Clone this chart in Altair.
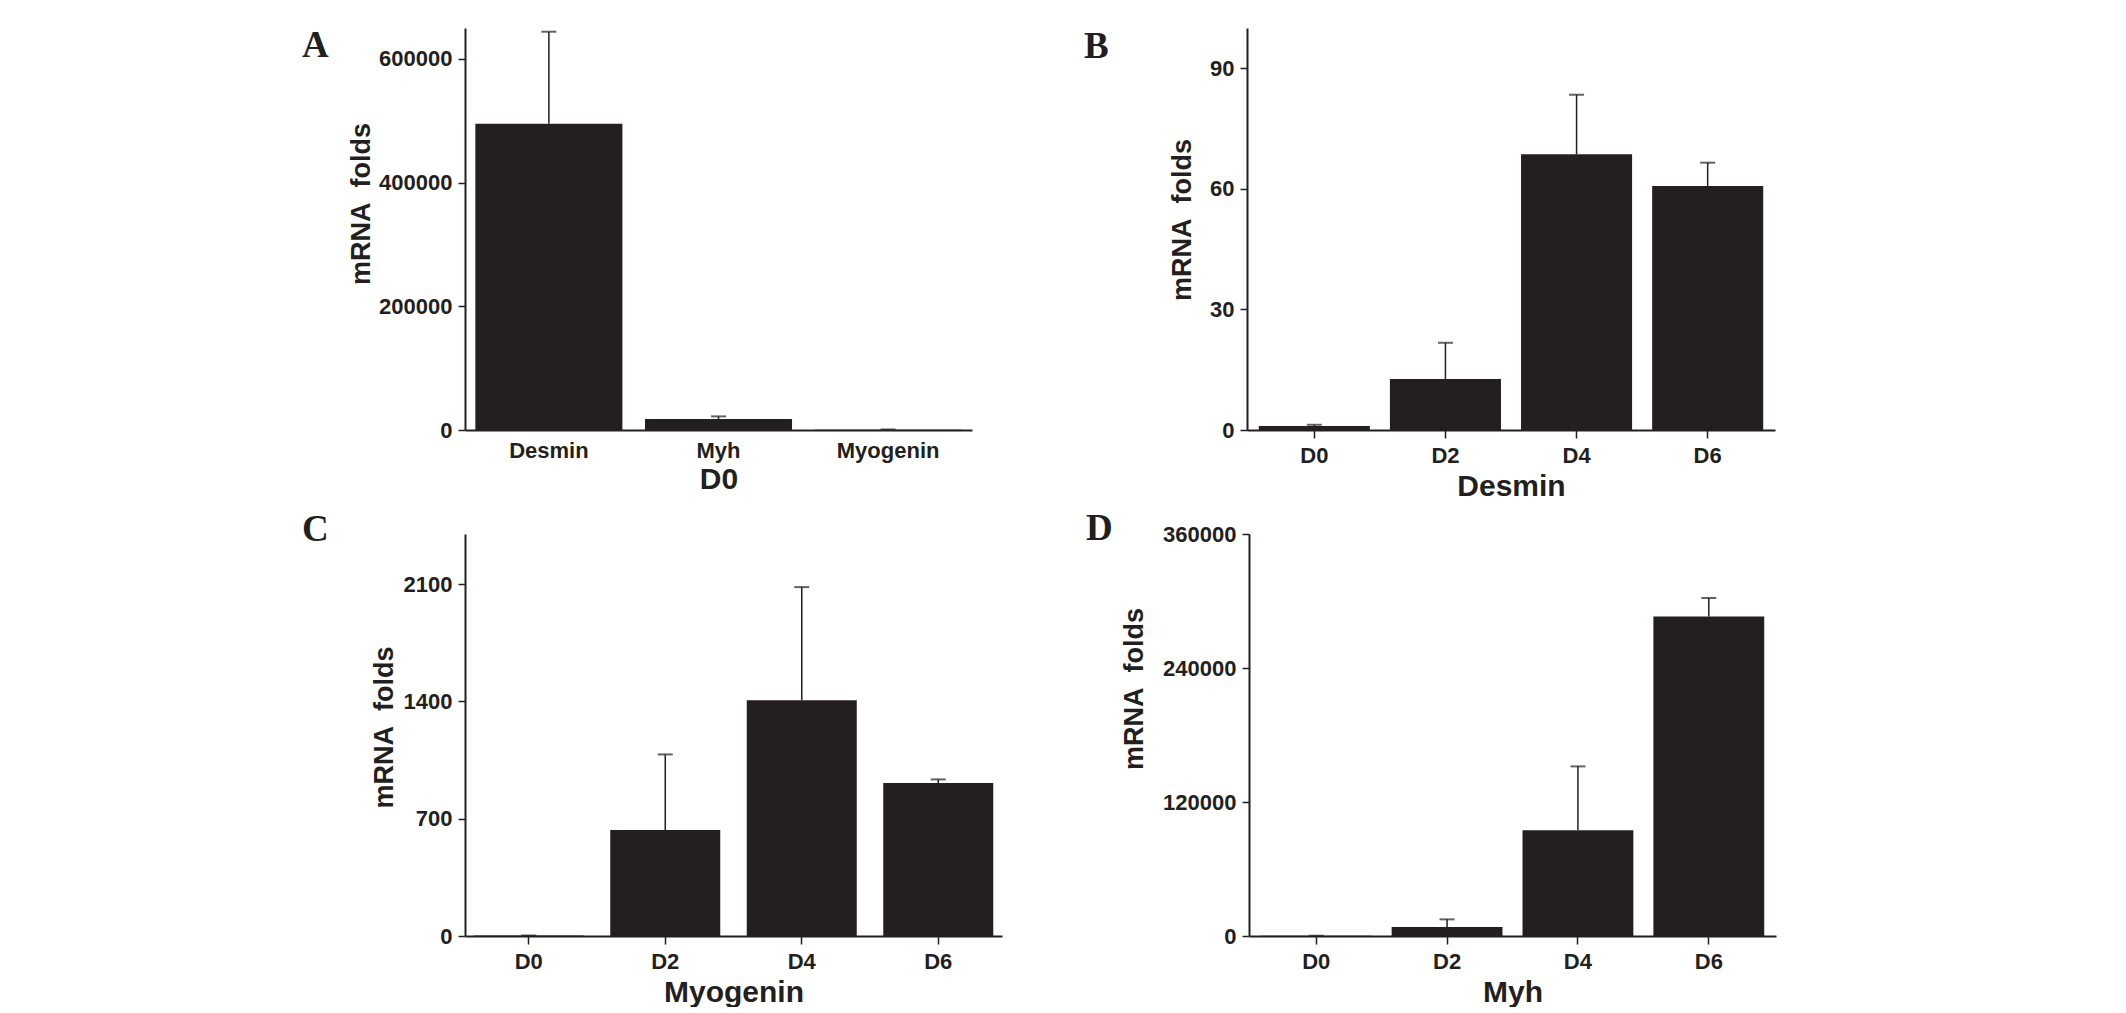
import altair as alt
import pandas as pd

# ---- data ----
a_cats = ["Desmin", "Myh", "Myogenin"]
a_mean = [495000, 17600, 600]
a_err = [149000, 4400, 300]

b_cats = ["D0", "D2", "D4", "D6"]
b_mean = [1.0, 12.7, 68.6, 60.7]
b_err = [0.3, 9.0, 14.8, 5.8]

c_cats = ["D0", "D2", "D4", "D6"]
c_mean = [3, 633, 1408, 913]
c_err = [0, 451, 675, 22]

d_cats = ["D0", "D2", "D4", "D6"]
d_mean = [300, 8060, 94600, 286200]
d_err = [0, 6840, 57300, 16500]

INK = "#231f20"
SANS = "Liberation Sans, Arial, Helvetica, sans-serif"
SERIF = "Liberation Serif, Times New Roman, serif"


def panel(cats, mean, err, letter, xtitle, ymax, yticks, width,
          p_in, p_out, show_xticks, x_labpad, x_titlepad,
          title_x, title_y, letter_y):
    df = pd.DataFrame({"cat": cats, "mean": mean,
                       "upper": [m + e for m, e in zip(mean, err)]})
    base = alt.Chart(df)
    x = alt.X("cat:N", sort=cats,
              scale=alt.Scale(paddingInner=p_in, paddingOuter=p_out),
              axis=alt.Axis(title=xtitle, labelAngle=0, ticks=show_xticks,
                            tickSize=8, tickWidth=1.5, labelPadding=x_labpad,
                            titlePadding=x_titlepad, titleFontSize=30,
                            labelFontSize=22))
    y = alt.Y("mean:Q",
              scale=alt.Scale(domain=[0, ymax], nice=False, zero=True),
              axis=alt.Axis(values=yticks, format="d", grid=False,
                            tickSize=7, tickWidth=1.5, labelPadding=6,
                            labelFontSize=22,
                            title="mRNA\u00a0\u00a0folds", titleFontSize=27,
                            titleX=title_x, titleY=title_y,
                            titleBaseline="alphabetic"))
    bars = base.mark_bar(color=INK).encode(x=x, y=y)
    rule = base.mark_rule(color=INK, strokeWidth=1.5).encode(
        x=alt.X("cat:N", sort=cats), y="mean:Q", y2="upper:Q")
    cap = base.mark_tick(color=INK, orient="horizontal", size=15,
                         thickness=2).encode(
        x=alt.X("cat:N", sort=cats), y="upper:Q")
    lab = alt.Chart(pd.DataFrame({"t": [letter]})).mark_text(
        font=SERIF, fontWeight="bold", fontSize=37, color=INK,
        align="left", baseline="middle").encode(
        text="t:N", x=alt.value(-163), y=alt.value(letter_y))
    return alt.layer(bars, rule, cap, lab).properties(width=width, height=402)


pa = panel(a_cats, a_mean, a_err, "A", "D0", 650000,
           [0, 200000, 400000, 600000], 507, 0.133, 0.061, False, 10, 3,
           -96, 175.5, 17.5)
pb = panel(b_cats, b_mean, b_err, "B", "Desmin", 100,
           [0, 30, 60, 90], 528, 0.153, 0.09, True, 7, 5,
           -57, 191.5, 18.5)
pc = panel(c_cats, c_mean, c_err, "C", "Myogenin", 2400,
           [0, 700, 1400, 2100], 537, 0.194, 0.064, True, 7, 5,
           -73, 193, -4)
pd_ = panel(d_cats, d_mean, d_err, "D", "Myh", 360000,
            [0, 120000, 240000, 360000], 527, 0.153, 0.09, True, 7, 5,
            -107, 154.5, -5)

row1 = alt.hconcat(pa, pb, spacing=112)
row2 = alt.hconcat(pc, pd_, spacing=84)

chart = alt.vconcat(row1, row2, spacing=9).properties(
    padding={"left": 294, "top": 18, "right": 10, "bottom": 0},
    background="white",
).configure_view(stroke=None).configure_axis(
    domainColor=INK, domainWidth=2, tickColor=INK, labelColor=INK,
    titleColor=INK, labelFont=SANS, titleFont=SANS,
    labelFontWeight="bold", titleFontWeight="bold",
)

chart.save("out.html", embed_options={"renderer": "svg", "actions": False})
